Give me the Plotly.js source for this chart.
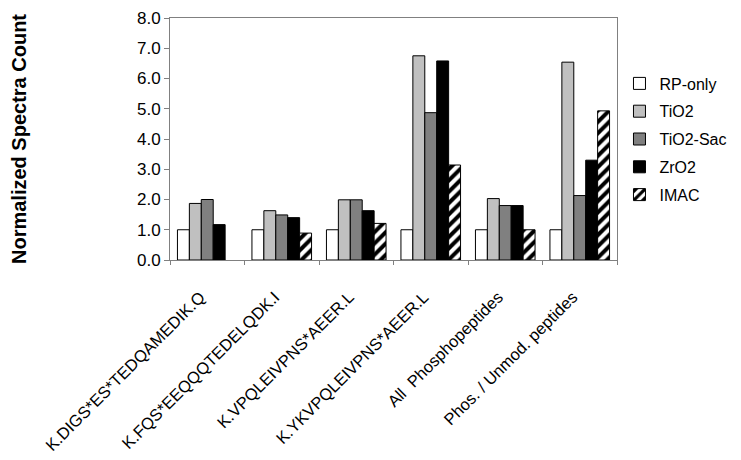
<!DOCTYPE html>
<html>
<head>
<meta charset="utf-8">
<script src="https://cdn.plot.ly/plotly-3.0.1.min.js"></script>
<style>html,body{margin:0;padding:0;background:#fff}#chart{width:741px;height:460px}</style>
</head>
<body>
<div id="chart"></div>
<script>
const categories = ["K.DIGS*ES*TEDQAMEDIK.Q", "K.FQS*EEQQQTEDELQDK.I", "K.VPQLEIVPNS*AEER.L", "K.YKVPQLEIVPNS*AEER.L", "All  Phosphopeptides", "Phos. / Unmod. peptides"];
const rpOnly = [1.0, 1.0, 1.0, 1.0, 1.0, 1.0];
const tio2 = [1.87, 1.63, 1.99, 6.75, 2.03, 6.54];
const tio2Sac = [2.0, 1.49, 1.99, 4.87, 1.8, 2.13];
const zro2 = [1.17, 1.4, 1.63, 6.58, 1.8, 3.3];
const imac = [null, 0.89, 1.21, 3.14, 1.0, 4.93];
const yTicks = [0, 1, 2, 3, 4, 5, 6, 7, 8];

const font = "Liberation Sans, Arial, sans-serif";
function bar(name, y, color, group, pattern) {
  const m = {color: color, line: {color: "#000", width: 1}};
  if (pattern) m.pattern = pattern;
  return {type: "bar", name: name, x: categories, y: y, marker: m, legendgroup: group, hoverinfo: "y"};
}
const data = [
  bar("RP-only", rpOnly, "#ffffff", "a"),
  bar("TiO2", tio2, "#c0c0c0", "b"),
  bar("TiO2-Sac", tio2Sac, "#808080", "c"),
  bar("ZrO2", zro2, "#000000", "d"),
  bar("IMAC", imac, "#ffffff", "e", {shape: "/", fgcolor: "#000", bgcolor: "#fff", size: 8, solidity: 0.5})
];
const layout = {
  width: 741, height: 460,
  margin: {l: 170, r: 124, t: 18, b: 200, autoexpand: false},
  paper_bgcolor: "#fff", plot_bgcolor: "#fff",
  font: {family: font, color: "#000"},
  barmode: "group", bargap: 0.2, bargroupgap: 0,
  showlegend: true,
  legend: {xref: "container", x: 0.836, xanchor: "left", y: 0.5, yanchor: "middle", font: {size: 16, family: font},
           traceorder: "grouped", tracegroupgap: 4, itemclick: false, itemwidth: 30},
  xaxis: {type: "category", tickangle: -45, tickfont: {size: 16.5, family: font}, ticks: "outside",
          tickson: "boundaries", ticklen: 4, tickcolor: "#808080", showline: true, linecolor: "#808080",
          linewidth: 1, mirror: true, showgrid: false, zeroline: false, automargin: false,
          ticklabelstandoff: 20, ticklabelshift: -7},
  yaxis: {range: [0, 8], tickvals: yTicks, tickformat: ".1f", tickfont: {size: 17, family: font},
          ticks: "outside", ticklen: 5, tickcolor: "#808080", showline: true, linecolor: "#808080",
          linewidth: 1, mirror: true, showgrid: false, zeroline: false, automargin: false,
          title: {text: "<b>Normalized Spectra Count</b>", font: {size: 20, family: font}, standoff: 104}}
};
Plotly.newPlot("chart", data, layout, {displayModeBar: false, staticPlot: true});
</script>
</body>
</html>
